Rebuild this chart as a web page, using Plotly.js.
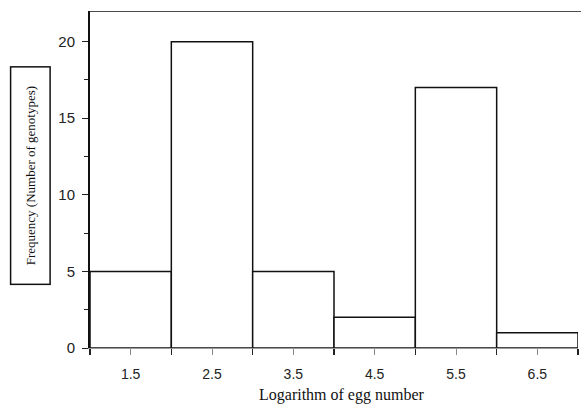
<!DOCTYPE html>
<html>
<head>
<meta charset="utf-8">
<script src="https://cdn.plot.ly/plotly-3.0.1.min.js"></script>
<style>html,body{margin:0;padding:0;background:#fff;}#chart{width:581px;height:405px;}</style>
</head>
<body>
<div id="chart"></div>
<script>
var binCenters = [1.5, 2.5, 3.5, 4.5, 5.5, 6.5];
var frequencies = [5, 20, 5, 2, 17, 1];
var xTickLabels = ["1.5", "2.5", "3.5", "4.5", "5.5", "6.5"];
var yTickVals = [0, 5, 10, 15, 20];

var trace = {
  type: 'bar',
  x: binCenters,
  y: frequencies,
  width: 1,
  marker: {color: '#ffffff', line: {color: '#111111', width: 1.5}},
  hoverinfo: 'skip'
};

var layout = {
  width: 581, height: 405,
  margin: {l: 90, r: 3, t: 11, b: 57},
  paper_bgcolor: '#fff', plot_bgcolor: '#fff',
  showlegend: false,
  bargap: 0,
  font: {family: 'Liberation Sans, Arial, sans-serif', size: 14, color: '#222'},
  xaxis: {
    range: [1, 7], autorange: false,
    tickvals: binCenters, ticktext: xTickLabels,
    ticks: 'outside', ticklen: 6, tickwidth: 1, tickcolor: '#888',
    ticklabelstandoff: 7,
    minor: {ticks: 'outside', tick0: 1, dtick: 1, ticklen: 6, tickwidth: 1.2, tickcolor: '#222', showgrid: false},
    showline: true, linecolor: '#999', linewidth: 1,
    showgrid: false, zeroline: false,
    tickfont: {family: 'Liberation Sans, Arial, sans-serif', size: 14, color: '#222'}
  },
  yaxis: {
    range: [0, 22], autorange: false,
    tickvals: yTickVals,
    ticks: 'outside', ticklen: 6, tickwidth: 1, tickcolor: '#222',
    ticklabelstandoff: 4,
    minor: {ticks: 'outside', tick0: 0, dtick: 2.5, ticklen: 4, tickwidth: 1, tickcolor: '#222', showgrid: false},
    showline: true, linecolor: '#111', linewidth: 2,
    showgrid: false, zeroline: false,
    tickfont: {family: 'Liberation Sans, Arial, sans-serif', size: 15, color: '#222'}
  },
  shapes: [
    {type: 'line', xref: 'paper', yref: 'y', x0: 0, x1: 1.01, y0: 22, y1: 22,
     line: {color: '#111', width: 1.5}}
  ],
  annotations: [
    {text: 'Logarithm of egg number', xref: 'paper', yref: 'paper',
     x: 0.516, y: 0, yshift: -47, xanchor: 'center', yanchor: 'middle', showarrow: false,
     font: {family: 'Liberation Serif, Times New Roman, serif', size: 16, color: '#111'}},
    {text: 'Frequency (Number of genotypes)', xref: 'paper', yref: 'paper',
     x: -0.123, y: 0.513, xanchor: 'center', yanchor: 'middle', showarrow: false,
     textangle: -90, width: 204, height: 26, borderpad: 6,
     bordercolor: '#111', borderwidth: 1.5, bgcolor: '#fff',
     font: {family: 'Liberation Serif, Times New Roman, serif', size: 13, color: '#111'}}
  ]
};

Plotly.newPlot('chart', [trace], layout, {displayModeBar: false, staticPlot: true});
</script>
</body>
</html>
